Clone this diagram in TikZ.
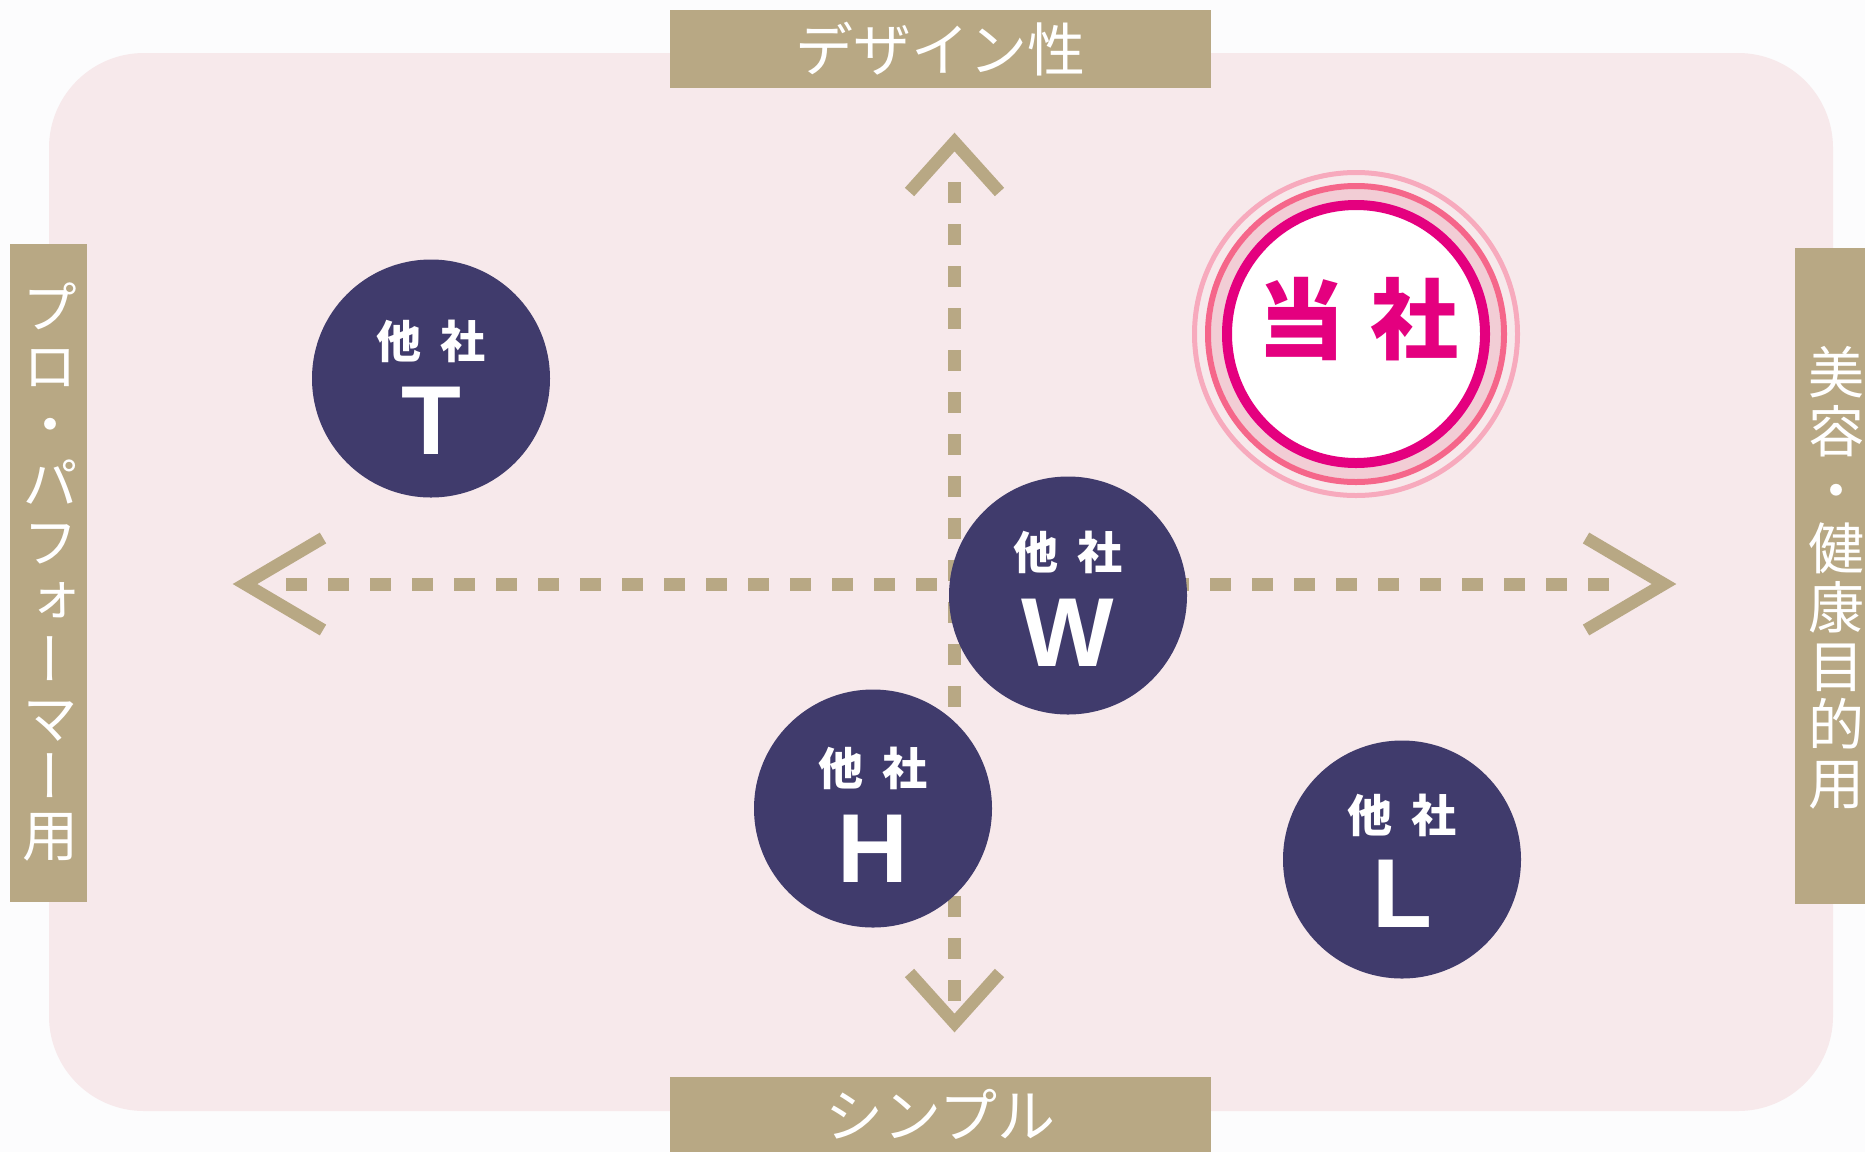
\documentclass[tikz,border=0pt]{standalone}
\usepackage{fontspec}
\setsansfont{Liberation Sans}
\newfontfamily\cjk{Noto Sans CJK JP}
\newfontfamily\cjkv[RawFeature=+vert]{Noto Sans CJK JP}
\definecolor{tan}{RGB}{184,168,132}
\definecolor{navy}{RGB}{64,59,108}
\definecolor{pinkbg}{RGB}{247,233,235}
\definecolor{outerbg}{RGB}{252,252,253}
\definecolor{brand}{RGB}{228,0,127}
\definecolor{ringmid}{RGB}{245,102,138}
\definecolor{ringout}{RGB}{247,170,189}
\definecolor{ringfill}{RGB}{242,205,213}
\begin{document}
\begin{tikzpicture}[x=1pt,y=-1pt,
  axisdash/.style={draw=tan,line width=13pt,dash pattern=on 21pt off 21pt},
  chevron/.style={draw=tan,line width=12.5pt,line join=miter,line cap=butt},
  labelbox/.style={fill=tan,inner sep=0pt,text=white,font=\cjk\fontsize{58}{58}\selectfont},
  vlabel/.style={text=white,align=center,inner sep=0pt,font=\cjkv\fontsize{56}{58.7}\selectfont},
  other/.style={circle,fill=navy,minimum size=238pt,inner sep=0pt},
  othername/.style={text=white,inner sep=0pt,font=\cjk\bfseries\fontsize{45}{45}\selectfont},
  otherletter/.style={text=white,inner sep=0pt,font=\sffamily\bfseries\fontsize{98}{98}\selectfont},
  usname/.style={text=brand,inner sep=0pt,font=\cjk\bfseries\fontsize{88}{88}\selectfont},
]
\useasboundingbox (0,0) rectangle (1865,1152);
\fill[outerbg] (0,0) rectangle (1865,1152);
\fill[pinkbg, rounded corners=95pt] (49,53) rectangle (1833,1111);

% axis label boxes
\node[labelbox, minimum width=541pt, minimum height=78pt] (topbox) at (940.5,49) {デザイン性};
\node[labelbox, minimum width=541pt, minimum height=75pt] (botbox) at (940.5,1114.5) {シンプル};
\node[fill=tan, minimum width=77pt, minimum height=658pt, inner sep=0pt] (leftbox) at (48,572.5) {};
\node[fill=tan, minimum width=71pt, minimum height=656pt, inner sep=0pt] (rightbox) at (1830,576) {};
\node[vlabel] (lefttext) at (51,572) {プ\\ロ\\・\\パ\\フ\\ォ\\ー\\マ\\ー\\用};
\node[vlabel] (righttext) at (1836,578) {美\\容\\・\\健\\康\\目\\的\\用};

% axes
\coordinate (ytop) at (954.5,142);
\coordinate (ybot) at (954.5,1023);
\coordinate (xleft) at (245,584);
\coordinate (xright) at (1664,584);
\draw[axisdash] (954.5,182) -- (954.5,1002);
\draw[axisdash] (286,584) -- (1623,584);
\draw[chevron] ([shift={(-45,50)}]ytop) -- (ytop) -- ([shift={(45,50)}]ytop);
\draw[chevron] ([shift={(-45,-50)}]ybot) -- (ybot) -- ([shift={(45,-50)}]ybot);
\draw[chevron] ([shift={(78,-46)}]xleft) -- (xleft) -- ([shift={(78,46)}]xleft);
\draw[chevron] ([shift={(-78,-46)}]xright) -- (xright) -- ([shift={(-78,46)}]xright);

% other companies
\node[other] (T) at (431,378.5) {};
\node[othername] at ([yshift=37pt]T.center) {他\hspace{20pt}社};
\node[otherletter] at ([yshift=-42pt]T.center) {T};

\node[other] (W) at (1068,595.5) {};
\node[othername] at ([yshift=43.5pt]W.center) {他\hspace{20pt}社};
\node[otherletter] at ([yshift=-37pt]W.center) {W};

\node[other] (H) at (873,808.5) {};
\node[othername] at ([yshift=40pt]H.center) {他\hspace{20pt}社};
\node[otherletter] at ([yshift=-40pt]H.center) {H};

\node[other] (L) at (1402,859.5) {};
\node[othername] at ([yshift=44.5pt]L.center) {他\hspace{20pt}社};
\node[otherletter] at ([yshift=-34.5pt]L.center) {L};

% our company
\coordinate (usc) at (1356,334);
\fill[ringfill] (usc) circle (145pt);
\draw[ringout, line width=5pt] (usc) circle (161.5pt);
\draw[ringmid, line width=6pt] (usc) circle (148pt);
\node[circle, fill=white, draw=brand, line width=10pt, minimum size=258pt, inner sep=0pt] (us) at (usc) {};
\node[usname] at (1358,319) {当\hspace{26pt}社};
\end{tikzpicture}
\end{document}
